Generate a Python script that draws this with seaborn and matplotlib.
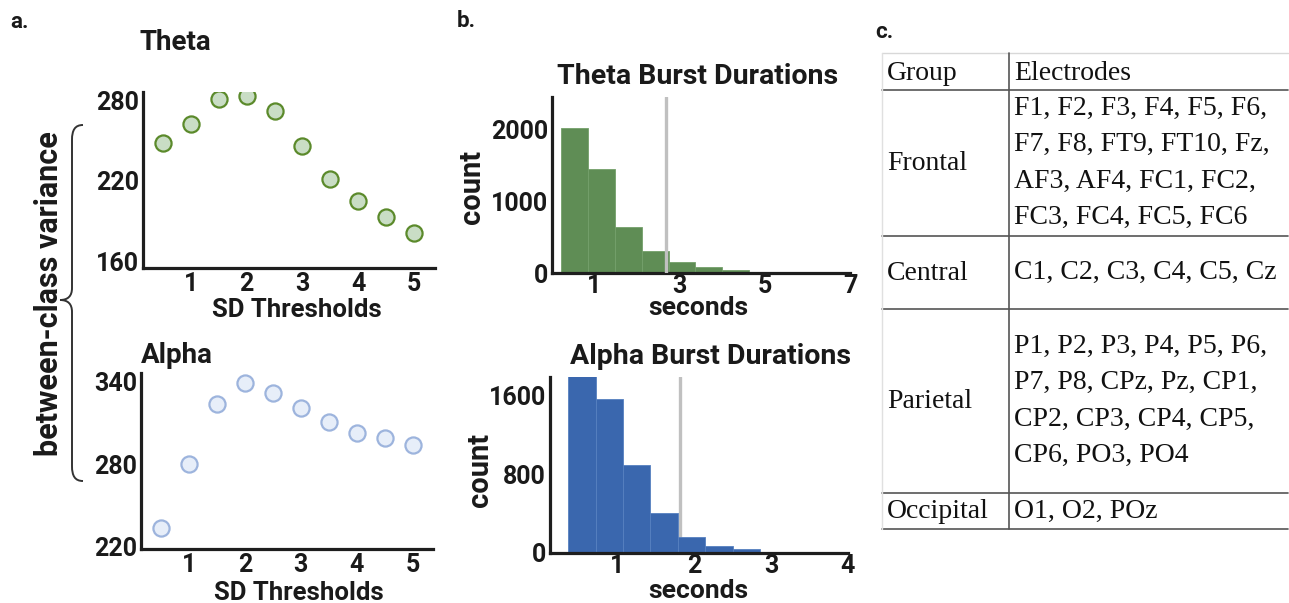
import matplotlib
matplotlib.use("Agg")
import matplotlib.pyplot as plt
from matplotlib.path import Path
from matplotlib.patches import PathPatch
import seaborn as sns
import pandas as pd

sns.set_theme(style="white")
plt.rcParams["font.family"] = ["Roboto", "DejaVu Sans"]
plt.rcParams["font.weight"] = "bold"
plt.rcParams["axes.labelweight"] = "bold"

# ---- data ----
sd_thresholds = [0.5, 1.0, 1.5, 2.0, 2.5, 3.0, 3.5, 4.0, 4.5, 5.0]
theta_variance = [248, 262, 281, 283, 272, 246, 221, 205, 193, 181]
alpha_variance = [234, 280, 324, 339, 332, 321, 311, 303, 299, 294]

theta_bin_edges = [0.22, 0.85, 1.48, 2.11, 2.74, 3.37, 4.00, 4.63, 5.26, 5.89, 6.52]
theta_counts = [2028, 1455, 643, 308, 154, 84, 42, 15, 6, 3]
theta_cutoff = 2.68

alpha_bin_edges = [0.36, 0.72, 1.07, 1.43, 1.79, 2.14, 2.50, 2.86, 3.21, 3.57, 3.93]
alpha_counts = [1810, 1565, 894, 406, 163, 71, 41, 10, 4, 2]
alpha_cutoff = 1.82

groups = ["Frontal", "Central", "Parietal", "Occipital"]
electrode_lines = [
    ["F1, F2, F3, F4, F5, F6,", "F7, F8, FT9, FT10, Fz,",
     "AF3, AF4, FC1, FC2,", "FC3, FC4, FC5, FC6"],
    ["C1, C2, C3, C4, C5, Cz"],
    ["P1, P2, P3, P4, P5, P6,", "P7, P8, CPz, Pz, CP1,",
     "CP2, CP3, CP4, CP5,", "CP6, PO3, PO4"],
    ["O1, O2, POz"],
]

TXT = "#1a1a1a"
W, H = 1289, 603


def px_axes(fig, x0, y0, x1, y1):
    # axes from pixel box (top-left origin)
    return fig.add_axes([x0 / W, 1 - y1 / H, (x1 - x0) / W, (y1 - y0) / H])


def style_axes(ax, tick_color, tick_len, xpad=3):
    for s in ["top", "right"]:
        ax.spines[s].set_visible(False)
    for s in ["left", "bottom"]:
        ax.spines[s].set_linewidth(2.3)
        ax.spines[s].set_color("#1e1e1e")
    ax.tick_params(axis="both", labelsize=18, colors=TXT, pad=3)
    ax.tick_params(axis="x", direction="in", length=tick_len, width=1.3,
                   color=tick_color, pad=xpad)
    for lab in ax.get_xticklabels() + ax.get_yticklabels():
        lab.set_fontweight("bold")


def place_labels(ax, xlab, xsize, xpos, ylab=None, ypos=None):
    ax.set_xlabel(xlab, fontsize=xsize, color=TXT, fontweight="bold")
    ax.xaxis.set_label_coords(*xpos)
    ax.xaxis.label.set_va("center")
    if ylab:
        ax.set_ylabel(ylab, fontsize=21, color=TXT, fontweight="bold")
        ax.yaxis.set_label_coords(*ypos)
        ax.yaxis.label.set_va("center")
    else:
        ax.set_ylabel("")


fig = plt.figure(figsize=(12.89, 6.03), dpi=100)

# ---- panel a: scatter ----
theta_df = pd.DataFrame({"sd": sd_thresholds, "var": theta_variance})
alpha_df = pd.DataFrame({"sd": sd_thresholds, "var": alpha_variance})

ax1 = px_axes(fig, 143, 92, 435, 268)
sns.scatterplot(data=theta_df, x="sd", y="var", ax=ax1, s=135,
                color="#c9ddc5", edgecolor="#5b8a2b", linewidth=1.6, zorder=3)
ax1.set_xlim(0.14, 5.38)
ax1.set_ylim(155, 286)
ax1.set_xticks([1, 2, 3, 4, 5])
ax1.set_yticks([160, 220, 280])
style_axes(ax1, "#c8c8c8", 6)
ax1.tick_params(axis="y", length=0)
place_labels(ax1, "SD Thresholds", 18.5, (0.527, -0.24))
ax1.text(0.11, 1.284, "Theta", transform=ax1.transAxes, ha="center",
         va="center", fontsize=20, fontweight="bold", color=TXT)

ax2 = px_axes(fig, 141, 373, 433, 549)
sns.scatterplot(data=alpha_df, x="sd", y="var", ax=ax2, s=135,
                color="#e7eef9", edgecolor="#9db4dd", linewidth=1.6, zorder=3)
ax2.set_xlim(0.143, 5.36)
ax2.set_ylim(218.5, 346.5)
ax2.set_xticks([1, 2, 3, 4, 5])
ax2.set_yticks([220, 280, 340])
style_axes(ax2, "#c8c8c8", 6)
ax2.tick_params(axis="y", length=0)
place_labels(ax2, "SD Thresholds", 18.5, (0.541, -0.25))
ax2.text(0.0, 1.102, "Alpha", transform=ax2.transAxes, ha="left",
         va="center", fontsize=20, fontweight="bold", color=TXT)

# ---- panel b: histograms ----
theta_centers = [(a + b) / 2 for a, b in zip(theta_bin_edges[:-1], theta_bin_edges[1:])]
alpha_centers = [(a + b) / 2 for a, b in zip(alpha_bin_edges[:-1], alpha_bin_edges[1:])]

ax3 = px_axes(fig, 552, 97, 850, 273)
sns.histplot(x=theta_centers, weights=theta_counts, bins=theta_bin_edges,
             color="#5f8d55", alpha=1, edgecolor="#74a06a", linewidth=0.6, ax=ax3)
ax3.axvline(theta_cutoff, color="#c0c0c0", linewidth=2.4, zorder=4)
ax3.set_xlim(0, 7)
ax3.set_ylim(0, 2460)
ax3.set_xticks([1, 3, 5, 7])
ax3.set_yticks([0, 1000, 2000])
style_axes(ax3, "#1e1e1e", 6, xpad=1)
ax3.tick_params(axis="y", direction="in", length=5, width=1.3, color="#1e1e1e")
place_labels(ax3, "seconds", 19, (0.49, -0.2), "count", (-0.268, 0.489))
ax3.text(0.49, 1.114, "Theta Burst Durations", transform=ax3.transAxes,
         ha="center", va="center", fontsize=20.5, fontweight="bold", color=TXT)

ax4 = px_axes(fig, 550, 377, 848, 553)
sns.histplot(x=alpha_centers, weights=alpha_counts, bins=alpha_bin_edges,
             color="#3a67ae", alpha=1, edgecolor="#5680c0", linewidth=0.6, ax=ax4)
ax4.axvline(alpha_cutoff, color="#c0c0c0", linewidth=2.4, zorder=0.5)
ax4.set_xlim(0.126, 4.0)
ax4.set_ylim(0, 1790)
ax4.set_xticks([1, 2, 3, 4])
ax4.set_yticks([0, 800, 1600])
style_axes(ax4, "#1e1e1e", 7, xpad=1)
ax4.tick_params(axis="y", direction="in", length=12, width=1.3, color="#1e1e1e")
place_labels(ax4, "seconds", 19, (0.497, -0.215), "count", (-0.235, 0.472))
ax4.text(0.537, 1.114, "Alpha Burst Durations", transform=ax4.transAxes,
         ha="center", va="center", fontsize=20.5, fontweight="bold", color=TXT)

# ---- overlay in pixel coordinates: labels, brace, table ----
ov = fig.add_axes([0, 0, 1, 1], zorder=-1)
ov.set_xlim(0, W)
ov.set_ylim(H, 0)
ov.axis("off")

ov.text(19, 22, "a.", ha="center", va="center", fontsize=16, fontweight="bold", color=TXT)
ov.text(466, 21, "b.", ha="center", va="center", fontsize=16, fontweight="bold", color=TXT)
ov.text(884, 32, "c.", ha="center", va="center", fontsize=16, fontweight="bold", color=TXT)

ov.text(49, 294, "between-class variance", rotation=90, ha="center", va="center",
        fontsize=22, fontweight="bold", color=TXT)

brace = Path(
    [(83, 125), (75, 125), (72, 130), (72, 140),
     (72, 288),
     (72, 296), (68, 300), (60, 300),
     (68, 300), (72, 304), (72, 312),
     (72, 466),
     (72, 476), (75, 481), (83, 481)],
    [Path.MOVETO, Path.CURVE4, Path.CURVE4, Path.CURVE4,
     Path.LINETO,
     Path.CURVE4, Path.CURVE4, Path.CURVE4,
     Path.CURVE4, Path.CURVE4, Path.CURVE4,
     Path.LINETO,
     Path.CURVE4, Path.CURVE4, Path.CURVE4])
ov.add_patch(PathPatch(brace, facecolor="none", edgecolor="#333333", linewidth=1.4))

# table
serif = ["Liberation Serif", "DejaVu Serif"]
tx0, tx1, tdiv = 882, 1288, 1009
row_lines = [53, 90, 236, 309, 493, 529]
line_col = "#555555"
ov.plot([tx0, tx1], [row_lines[0], row_lines[0]], color="#d8d8d8", lw=1.0)
for y in row_lines[1:]:
    ov.plot([tx0, tx1], [y, y], color=line_col, lw=1.2)
ov.plot([tdiv, tdiv], [row_lines[0], row_lines[-1]], color=line_col, lw=1.2)
ov.plot([tx0, tx0], [row_lines[0], row_lines[-1]], color="#e0e0e0", lw=1.0)

ov.text(887, 73, "Group", family=serif, fontweight="normal", fontsize=20,
        ha="left", va="center", color="#111111")
ov.text(1014, 73, "Electrodes", family=serif, fontweight="normal", fontsize=20,
        ha="left", va="center", color="#111111")

line_step = 36.6
for i, (grp, lines) in enumerate(zip(groups, electrode_lines)):
    top, bot = row_lines[i + 1], row_lines[i + 2]
    mid = (top + bot) / 2
    ov.text(887, mid + 1, grp, family=serif, fontweight="normal", fontsize=20,
            ha="left", va="center", color="#111111")
    n = len(lines)
    for j, ln in enumerate(lines):
        yy = mid + (j - (n - 1) / 2) * line_step
        ov.text(1014, yy, ln, family=serif, fontweight="normal", fontsize=20,
                ha="left", va="center", color="#111111")

fig.savefig("out.png", dpi=100)
